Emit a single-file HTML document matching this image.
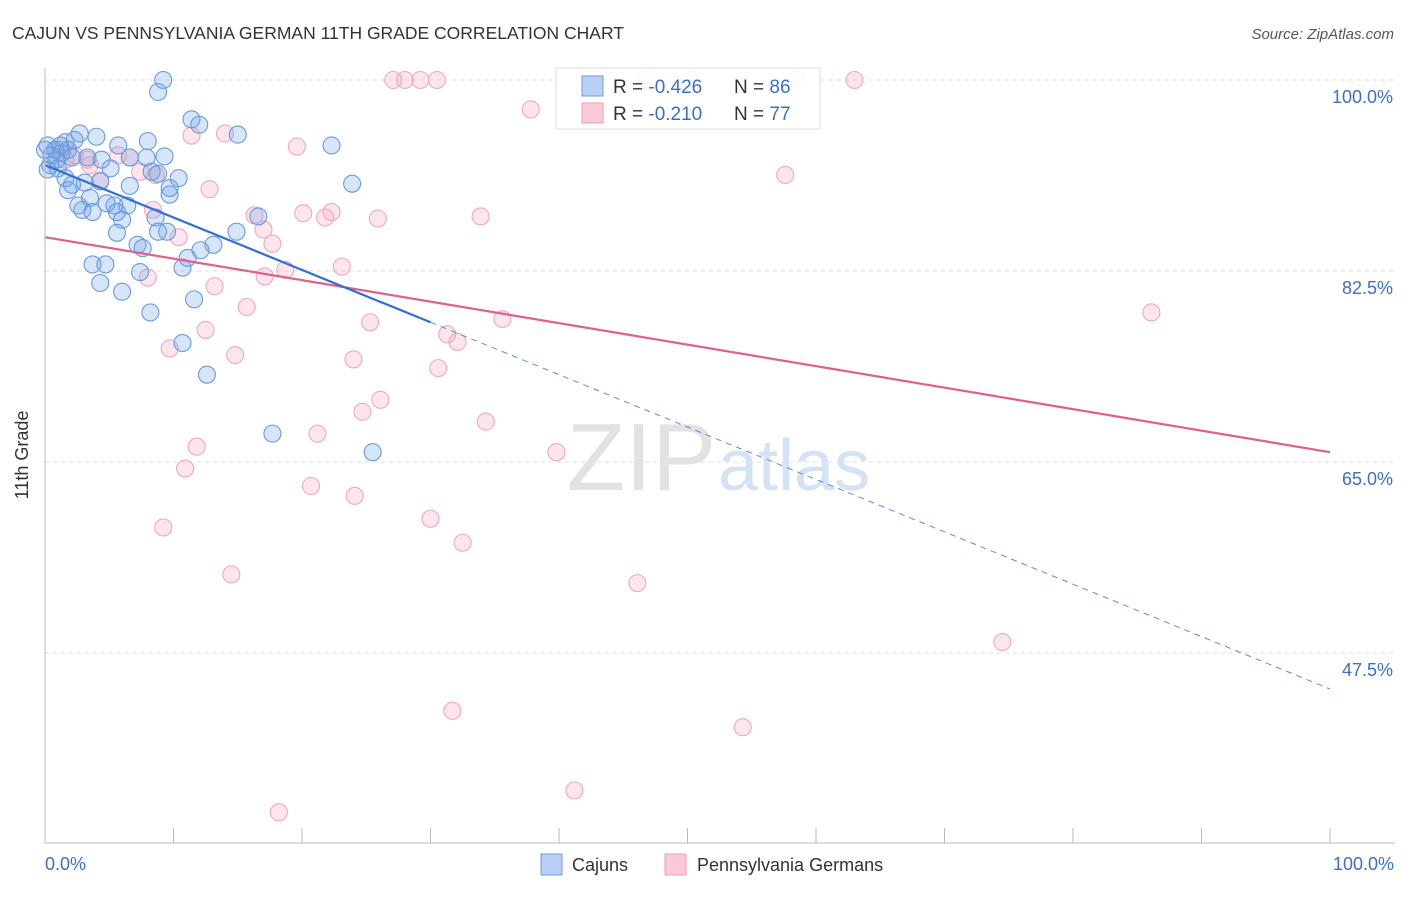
<!DOCTYPE html>
<html><head><meta charset="utf-8"><style>
body{margin:0;background:#fff;font-family:"Liberation Sans",sans-serif;}
svg text{font-family:"Liberation Sans",sans-serif;}
</style></head><body>
<svg width="1406" height="892" viewBox="0 0 1406 892">
<text x="12" y="39" font-size="17.5" fill="#333">CAJUN VS PENNSYLVANIA GERMAN 11TH GRADE CORRELATION CHART</text>
<text x="1394" y="39" font-size="15" fill="#555" font-style="italic" text-anchor="end">Source: ZipAtlas.com</text>
<g id="grid"></g>
<text x="716" y="490" font-size="96" fill="#e2e2e2" text-anchor="end" font-family="Liberation Serif">ZIP</text>
<text x="718" y="490" font-size="72" fill="#d3e2f5">atlas</text>
<g id="pts"></g>
<g id="trend"></g>
<g id="axes"></g>
<text x="28" y="455" font-size="18" fill="#333" text-anchor="middle" transform="rotate(-90 28 455)">11th Grade</text>
<text x="45" y="870" font-size="18" fill="#3a6fd0">0.0%</text>
<text x="1394" y="870" font-size="18" fill="#3a6fd0" text-anchor="end">100.0%</text>
<g>
<rect x="556" y="68" width="264" height="61" fill="#fff" fill-opacity="0.88" stroke="#ddd"/>
<rect x="582" y="76" width="21" height="20" fill="#b7d0f3" stroke="#6f9ee0"/>
<rect x="582" y="103" width="21" height="20" fill="#fbc8d6" stroke="#ee9fb8"/>
<text x="613" y="93" font-size="19" fill="#333">R = <tspan fill="#3a6fd0">-0.426</tspan></text>
<text x="734" y="93" font-size="19" fill="#333">N = <tspan fill="#3a6fd0">86</tspan></text>
<text x="613" y="120" font-size="19" fill="#333">R = <tspan fill="#3a6fd0"> -0.210</tspan></text>
<text x="734" y="120" font-size="19" fill="#333">N = <tspan fill="#3a6fd0">77</tspan></text>
</g>
<g>
<rect x="541" y="854" width="21" height="21" fill="#b7d0f3" stroke="#6f9ee0"/>
<text x="572" y="871" font-size="18" fill="#333">Cajuns</text>
<rect x="665" y="854" width="21" height="21" fill="#fbc8d6" stroke="#ee9fb8"/>
<text x="697" y="871" font-size="18" fill="#333">Pennsylvania Germans</text>
</g>
</svg>
<script>
const yTicks=[100,82.5,65,47.5];
const yTickLabels=["100.0%","82.5%","65.0%","47.5%"];
const xTicks=[0,10,20,30,40,50,60,70,80,90,100];
const cajunX=[9.2,8.8,11.4,12.0,15.0,2.7,4.0,1.6,8.0,5.7,22.3,0.2,0.8,1.3,2.1,4.4,6.6,7.9,9.3,0.4,1.0,5.1,8.3,8.8,10.4,1.6,3.1,2.1,4.3,6.6,9.7,23.9,1.8,9.7,3.5,2.6,4.8,5.4,6.4,2.9,3.7,5.6,6.0,8.6,16.6,14.9,5.6,8.8,9.5,7.2,7.6,12.1,13.1,11.1,3.7,4.7,10.7,7.4,4.3,6.0,11.6,8.2,10.7,12.6,17.7,25.5,0.9,0.2,3.3,1.2,2.3,0,0.5,1.8];
const cajunY=[100,98.9,96.4,95.9,95.0,95.1,94.8,94.3,94.4,94.0,94.0,94.0,93.6,93.3,92.9,92.7,92.9,92.9,93.0,92.2,91.9,91.9,91.6,91.4,91.0,91.0,90.6,90.4,90.7,90.3,90.1,90.5,89.9,89.5,89.2,88.5,88.7,88.5,88.5,88.1,87.9,87.9,87.2,87.4,87.5,86.1,86.0,86.1,86.1,84.9,84.6,84.4,84.9,83.7,83.1,83.1,82.8,82.4,81.4,80.6,79.9,78.7,75.9,73.0,67.6,65.9,92.7,91.8,92.9,94.0,94.5,93.6,93.1,93.6];
const paX=[27.1,28.0,29.2,30.5,46.7,50.2,58.4,63.0,37.8,11.4,14.0,19.6,6.6,7.4,3.3,1.2,2.3,4.3,8.6,12.8,57.6,16.3,17.0,20.1,22.3,21.8,25.9,33.9,8.4,10.4,17.7,8.0,18.7,23.1,17.1,13.2,15.7,35.6,25.3,86.1,12.5,31.3,32.1,9.7,14.8,24.0,30.6,26.1,24.7,34.3,21.2,11.8,39.8,10.9,20.7,24.1,30.0,9.2,32.5,14.5,46.1,74.5,31.7,54.3,41.2,18.2,1.6,3.5,5.7];
const paY=[100,100,100,100,100,100,100,100,97.3,94.9,95.1,93.9,92.9,91.6,92.7,93.6,93.1,90.8,91.3,90.0,91.3,87.6,86.3,87.8,87.9,87.4,87.3,87.5,88.1,85.6,85.0,81.9,82.6,82.9,82.0,81.1,79.2,78.1,77.8,78.7,77.1,76.7,76.0,75.4,74.8,74.4,73.6,70.7,69.6,68.7,67.6,66.4,65.9,64.4,62.8,61.9,59.8,59.0,57.6,54.7,53.9,48.5,42.2,40.7,34.9,32.9,92.7,92.2,93.1];
const cajunTrend=[92.2,-0.48];
const paTrend=[85.6,-0.197];
const NS="http://www.w3.org/2000/svg";
function X(v){return 45+v*12.85;}
function Y(v){return 80+(100-v)*10.914;}
function mk(tag,attrs,parent){const e=document.createElementNS(NS,tag);for(const k in attrs)e.setAttribute(k,attrs[k]);document.getElementById(parent).appendChild(e);return e;}
yTicks.forEach((t,i)=>{
 const l=mk('line',{x1:45,x2:1395,y1:Y(t),y2:Y(t),stroke:'#ddd','stroke-dasharray':'4,4'},'grid');
 
 
 const tx=mk('text',{x:1393,y:Y(t)+23,'font-size':18,fill:'#3a6fd0','text-anchor':'end'},'grid');
 tx.textContent=yTickLabels[i];
 
 
});
const ax=mk('line',{x1:45,x2:45,y1:68,y2:843,stroke:'#bbb'},'axes');


const bx=mk('line',{x1:45,x2:1395,y1:843,y2:843,stroke:'#bbb'},'axes');


xTicks.forEach(t=>{
 const l=mk('line',{x1:X(t),x2:X(t),y1:828,y2:843,stroke:'#bbb'},'axes');
 
 
});
paX.forEach((x,i)=>{
 const c=mk('circle',{cx:X(x),cy:Y(paY[i]),r:8.5,fill:'rgba(245,160,190,0.28)',stroke:'#f0a8c0','stroke-width':1.1},'pts');
 
 
});
cajunX.forEach((x,i)=>{
 const c=mk('circle',{cx:X(x),cy:Y(cajunY[i]),r:8.5,fill:'rgba(110,160,230,0.28)',stroke:'#6a9ade','stroke-width':1.1},'pts');
 
 
});
function ty(tr,x){return tr[0]+tr[1]*x;}
const p=mk('line',{x1:X(0),y1:Y(ty(paTrend,0)),x2:X(100),y2:Y(ty(paTrend,100)),stroke:'#e0608a','stroke-width':2.2},'trend');


const b1=mk('line',{x1:X(0),y1:Y(ty(cajunTrend,0)),x2:X(30),y2:Y(ty(cajunTrend,30)),stroke:'#2f6fd6','stroke-width':2.2},'trend');


const b2=mk('line',{x1:X(30),y1:Y(ty(cajunTrend,30)),x2:X(100),y2:Y(ty(cajunTrend,100)),stroke:'#5a8ed8','stroke-width':1,'stroke-dasharray':'6,5'},'trend');


</script>
</body></html>
